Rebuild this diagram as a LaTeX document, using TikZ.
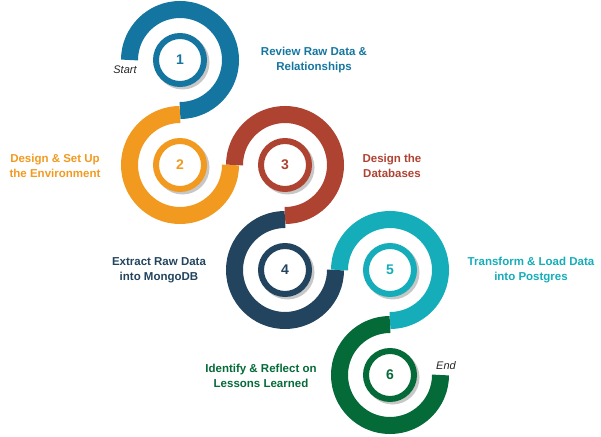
\documentclass[tikz,border=0pt]{standalone}
\usepackage{fontspec}
\setmainfont{Liberation Sans}
\usepackage{tikz}
\definecolor{REVcolor}{HTML}{1476A0}
\definecolor{SETcolor}{HTML}{F29A20}
\definecolor{DBScolor}{HTML}{AF4332}
\definecolor{EXTcolor}{HTML}{22445E}
\definecolor{TRAcolor}{HTML}{14ADB9}
\definecolor{LEScolor}{HTML}{046A38}

\begin{document}
\begin{tikzpicture}[x=1pt, y=1pt,
  band/.style={line width=17pt},
  ring/.style={circle, draw=#1, line width=6pt, fill=white, minimum size=48pt,
    inner sep=0pt, text=#1, font=\fontsize{14}{14}\selectfont\bfseries},
  lbl/.style={text=#1, align=center, font=\fontsize{11.5}{15}\selectfont\bfseries},
  tag/.style={text=black!85, font=\fontsize{11}{13}\selectfont\itshape}]
  \useasboundingbox (0,0) rectangle (601,436);
  \foreach \i/\cx/\cy/\col/\from/\to in {
    1/180/376/REVcolor/180/-90, 2/180/271/SETcolor/90/360,
    3/285/271/DBScolor/180/-90, 4/285/166/EXTcolor/90/360,
    5/390/166/TRAcolor/180/-90, 6/390/61/LEScolor/90/360
  } {
    \coordinate (c\i) at (\cx,\cy);
    \draw[band, \col] (c\i) ++(\from:50.5) arc (\from:\to:50.5);
    \fill[black!22] ([shift={(2.5,-2.5)}]c\i) circle (27);
    \node[ring=\col] (ring\i) at (c\i) {\i};
  }
  \node[lbl=REVcolor] (txt1) at (314,375.5) {Review Raw Data \&\\Relationships};
  \node[lbl=SETcolor] (txt2) at (55,270.5) {Design \& Set Up\\the Environment};
  \node[lbl=DBScolor] (txt3) at (392,270.5) {Design the\\Databases};
  \node[lbl=EXTcolor] (txt4) at (159,165.5) {Extract Raw Data\\into MongoDB};
  \node[lbl=TRAcolor] (txt5) at (531,165.5) {Transform \& Load Data\\into Postgres};
  \node[lbl=LEScolor] (txt6) at (261,60.5) {Identify \& Reflect on\\Lessons Learned};
  \node[tag] (start) at (125,366) {Start};
  \node[tag] (end) at (446,70) {End};
\end{tikzpicture}
\end{document}
